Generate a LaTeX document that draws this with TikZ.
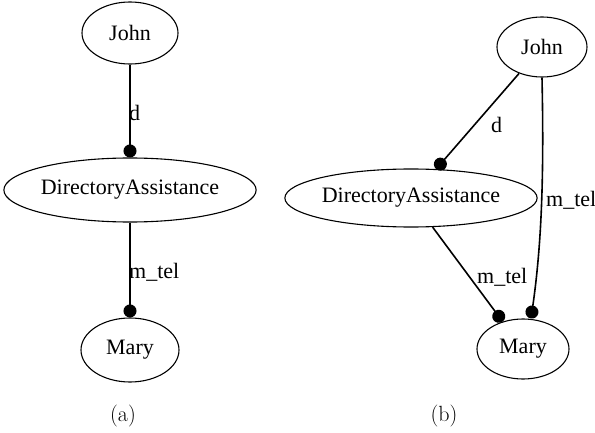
\documentclass[tikz,border=0pt]{standalone}
\usepackage{fontspec}
\newfontfamily\timesfont{Liberation Serif}
\usetikzlibrary{shapes.geometric,arrows.meta}

\tikzset{
  state/.style={draw,ellipse,line width=1.1pt,inner sep=0pt,
    font=\timesfont\fontsize{22}{26}\selectfont},
  link/.style={line width=1.6pt,-{Circle[length=13pt,width=13pt]}},
  lbl/.style={anchor=west,inner sep=0pt,
    font=\timesfont\fontsize{22}{26}\selectfont},
  subcap/.style={font=\fontsize{22}{26}\selectfont},
}

\begin{document}
\begin{tikzpicture}[x=1pt,y=1pt]
\useasboundingbox (0,0) rectangle (595,432);

% (a) chain
\node[state,minimum width=96pt,minimum height=62pt] (johnA) at (130,399) {John};
\node[state,minimum width=242pt,minimum height=64pt] (dirA) at (130,242) {DirectoryAssistance};
\node[state,minimum width=98pt,minimum height=64pt] (maryA) at (130,82) {Mary};

\draw[link] (johnA) -- (dirA) ;
\draw[link] (dirA) -- (maryA) ;
\node[lbl] (dA) at (129,319) {d};
\node[lbl] (telA) at (129,160) {m\_tel};

\node[subcap] (capA) at (123,16) {(a)};

%---------------------------------

% (b) with the direct link
\node[state,minimum width=90pt,minimum height=60pt] (johnB) at (542,385) {John};
\node[state,minimum width=228pt,minimum height=58pt] (dirB) at (411,234) {DirectoryAssistance};
\node[state,minimum width=92pt,minimum height=60pt] (maryB) at (523,83) {Mary};

\draw[link] (johnB) -- (dirB) ;
\draw[link] (dirB) -- (maryB) ;
\draw[link] (johnB.south) .. controls (544,260) and (542,190) .. ([xshift=8pt]maryB.north) ;
\node[lbl] (dB) at (491,307) {d};
\node[lbl] (telB) at (546,232) {m\_tel};
\node[lbl] (telC) at (477,155) {m\_tel};

\node[subcap] (capB) at (444,16) {(b)};
\end{tikzpicture}
\end{document}
